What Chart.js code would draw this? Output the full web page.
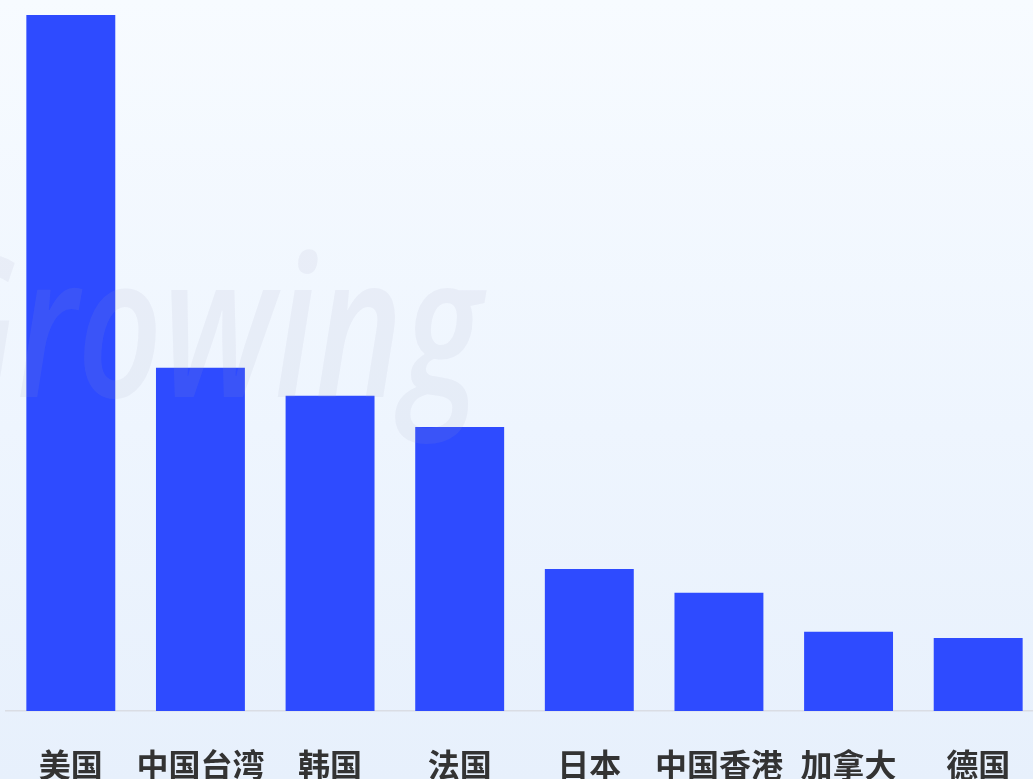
<!DOCTYPE html>
<html>
<head>
<meta charset="utf-8">
<script src="https://cdn.jsdelivr.net/npm/chart.js@4/dist/chart.umd.min.js"></script>
<style>
  html,body{margin:0;padding:0;overflow:hidden;width:1033px;height:779px;
    background:linear-gradient(180deg,#f7fbff 0%,#eef5fe 55%,#e7f0fc 100%);}
  #wrap{position:absolute;left:0;top:0;width:1050px;height:800px;}
</style>
</head>
<body>
<div id="wrap"><canvas id="c"></canvas></div>
<script>
// 地区 / 数值（按图中柱高估算，最高者 = 100）
const categories = ['美国','中国台湾','韩国','法国','日本','中国香港','加拿大','德国'];
const values = [100, 49.3, 45.3, 40.8, 20.4, 17.0, 11.4, 10.5];
const yMax = 100;

// 水印
const watermark = {
  id:'watermark',
  afterDatasetsDraw(chart){
    const ctx = chart.ctx;
    const sx = 0.75;
    ctx.save();
    ctx.scale(sx, 1);
    ctx.font = 'italic 600 198px "Open Sans", sans-serif';
    ctx.fillStyle = 'rgba(160,168,190,0.11)';
    ctx.textBaseline = 'alphabetic';
    ctx.fillText('Growing', -85 / sx, 397);
    ctx.restore();
  }
};

new Chart(document.getElementById('c'), {
  type:'bar',
  data:{ labels:categories, datasets:[{ data:values, backgroundColor:'#2e4bff', borderWidth:0,
    categoryPercentage:1, barPercentage:0.686 }] },
  options:{
    responsive:true, maintainAspectRatio:false, animation:false,
    layout:{ padding:{ left:6, right:7, top:15, bottom:0 } },
    plugins:{ legend:{display:false}, tooltip:{enabled:false} },
    scales:{
      x:{
        grid:{ display:false },
        border:{ display:true, color:'#dadde4', width:1.5 },
        ticks:{ color:'#333', padding:27, maxRotation:0, autoSkip:false,
          font:{ size:32, weight:'bold', family:'"Noto Sans CJK SC", sans-serif' } },
        afterFit(s){ s.height = 800 - 711; }
      },
      y:{ display:false, min:0, max:yMax }
    }
  },
  plugins:[watermark]
});
</script>
</body>
</html>
